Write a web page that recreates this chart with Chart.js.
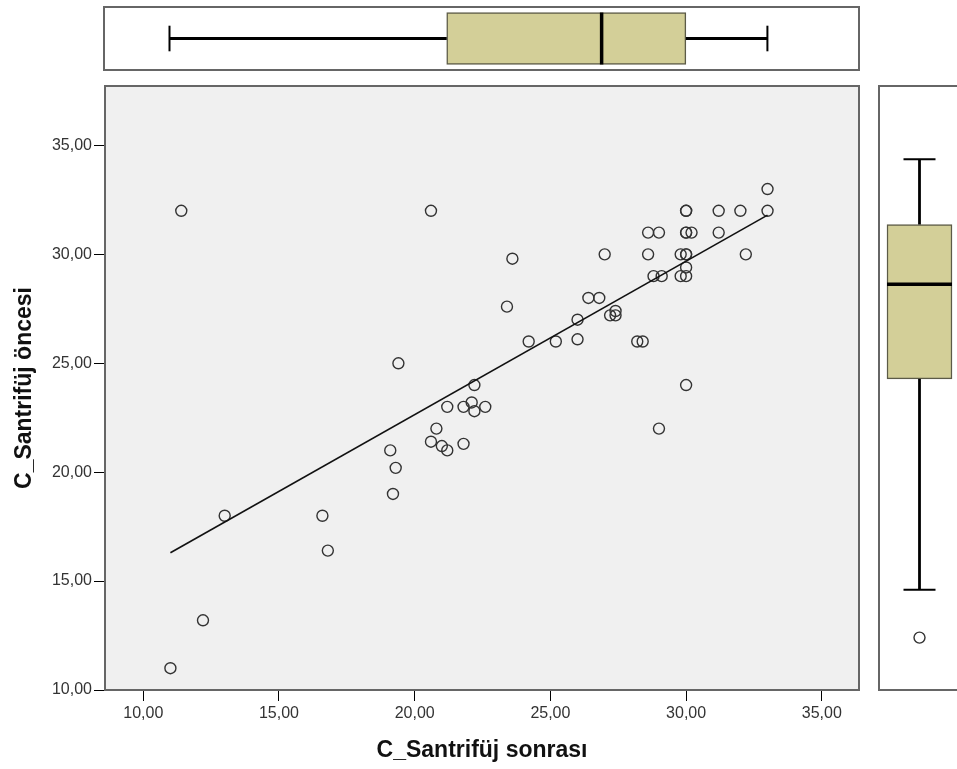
<!DOCTYPE html>
<html>
<head>
<meta charset="utf-8">
<script src="https://cdn.jsdelivr.net/npm/chart.js@4.4.0/dist/chart.umd.min.js"></script>
<style>
html, body { margin: 0; padding: 0; background: #fff; overflow: hidden; width: 957px; height: 769px; }
canvas { position: absolute; }
</style>
</head>
<body>
<canvas id="topBox" width="957" height="80" style="left:0;top:0"></canvas>
<canvas id="main" width="870" height="769" style="left:0;top:0"></canvas>
<canvas id="rightBox" width="100" height="769" style="left:870px;top:0"></canvas>
<script>
// C_Santrifüj sonrası (x) / C_Santrifüj öncesi (y)
const sonrasi = [11.4, 20.6, 19.4, 22.2, 33, 33, 30, 30, 31.2, 32,
  28.6, 29, 30, 30, 30.2, 31.2, 23.6, 27, 28.6, 29.8, 30, 30, 32.2, 30,
  28.8, 29.1, 29.8, 30, 26.4, 26.8, 23.4, 26, 27.2, 27.4, 27.4,
  24.2, 25.2, 26, 28.2, 28.4, 30, 21.2, 21.8, 22.1, 22.2, 22.6,
  20.8, 20.6, 21, 21.2, 21.8, 19.1, 19.3, 19.2, 13, 16.6, 16.8, 12.2, 11, 29];
const oncesi = [32, 32, 25, 24, 33, 32, 32, 32, 32, 32,
  31, 31, 31, 31, 31, 31, 29.8, 30, 30, 30, 30, 30, 30, 29.4,
  29, 29, 29, 29, 28, 28, 27.6, 27, 27.2, 27.2, 27.4,
  26, 26, 26.1, 26, 26, 24, 23, 23, 23.2, 22.8, 23,
  22, 21.4, 21.2, 21, 21.3, 21, 20.2, 19, 18, 18, 16.4, 13.2, 11, 22];

// fit line end points
const fitX = [11, 33];
const fitY = [16.3, 31.8];

// boxplot stats: min, q1, median, q3, max
const sonrasiBox = [11, 21.2, 26.9, 30, 33];
const oncesiBox = [13.2, 22.9, 27.25, 30, 33];
const oncesiOutliers = [11];

const xTicks = [10, 15, 20, 25, 30, 35];
const yTicks = [10, 15, 20, 25, 30, 35];
const xRange = [8.59, 36.37];
const yRange = [10, 37.73];

const FONT = "'Liberation Sans', Arial, sans-serif";
const fmt = v => Number(v).toFixed(2).replace('.', ',');

const framePlugin = {
  id: 'frame',
  beforeDraw(chart, args, opts) {
    const { ctx, chartArea: a } = chart;
    ctx.save();
    ctx.fillStyle = opts.fill;
    ctx.fillRect(a.left, a.top, a.right - a.left, a.bottom - a.top);
    ctx.restore();
  },
  afterDraw(chart, args, opts) {
    const { ctx, chartArea: a } = chart;
    ctx.save();
    ctx.strokeStyle = opts.stroke;
    ctx.lineWidth = 2;
    ctx.strokeRect(a.left, a.top, a.right - a.left, a.bottom - a.top);
    ctx.restore();
  }
};

const hidden = (range) => ({
  type: 'linear', display: false, offset: false, min: range[0], max: range[1],
  grid: { offset: false }, beginAtZero: false
});

// main scatter
new Chart(document.getElementById('main'), {
  type: 'scatter',
  data: {
    datasets: [
      {
        type: 'line',
        data: fitX.map((x, i) => ({ x: x, y: fitY[i] })),
        borderColor: '#111',
        borderWidth: 1.6,
        pointRadius: 0,
        fill: false
      },
      {
        data: sonrasi.map((x, i) => ({ x: x, y: oncesi[i] })),
        pointRadius: 5.5,
        pointBorderWidth: 1.4,
        pointBorderColor: '#333',
        pointBackgroundColor: 'rgba(0,0,0,0)'
      }
    ]
  },
  options: {
    responsive: false,
    animation: false,
    layout: { autoPadding: false, padding: { top: 86, right: 11, left: 0, bottom: 0 } },
    plugins: {
      legend: { display: false },
      tooltip: { enabled: false },
      frame: { fill: '#f0f0f0', stroke: '#666' }
    },
    scales: {
      x: {
        type: 'linear', min: xRange[0], max: xRange[1],
        afterFit: s => { s.height = 79; },
        afterBuildTicks: s => { s.ticks = xTicks.map(v => ({ value: v })); },
        ticks: { font: { family: FONT, size: 16 }, color: '#333', padding: 3, maxRotation: 0, autoSkip: false, callback: fmt },
        grid: { drawOnChartArea: false, tickLength: 11, color: '#000' },
        border: { display: false },
        title: { display: true, text: 'C_Santrifüj sonrası', color: '#111',
          font: { family: FONT, size: 23, weight: 'bold' }, padding: { top: 0, bottom: 5 } }
      },
      y: {
        type: 'linear', min: yRange[0], max: yRange[1],
        afterFit: s => { s.width = 105; },
        afterBuildTicks: s => { s.ticks = yTicks.map(v => ({ value: v })); },
        ticks: { font: { family: FONT, size: 16 }, color: '#333', padding: 2, autoSkip: false, callback: fmt },
        grid: { drawOnChartArea: false, tickLength: 11, color: '#000' },
        border: { display: false },
        title: { display: true, text: 'C_Santrifüj öncesi', color: '#111',
          font: { family: FONT, size: 23, weight: 'bold' }, padding: { top: 11, bottom: 0 } }
      }
    }
  },
  plugins: [framePlugin]
});

// top boxplot (sonrası)
const [xMin, xQ1, xMed, xQ3, xMax] = sonrasiBox;
new Chart(document.getElementById('topBox'), {
  type: 'scatter',
  data: {
    datasets: [
      { data: [{ x: xMed, y: 0.5 }], pointStyle: 'line', pointRotation: 90, pointRadius: 26,
        pointBorderWidth: 3.5, pointBorderColor: '#000' },
      { data: [{ x: xMin, y: 0.5 }, { x: xMax, y: 0.5 }], pointStyle: 'line', pointRotation: 90,
        pointRadius: 12.8, pointBorderWidth: 2, pointBorderColor: '#000' },
      { type: 'line', data: [{ x: xMin, y: 0.5 }, { x: xQ1, y: 0.5 }], borderColor: '#000', borderWidth: 2.8, pointRadius: 0 },
      { type: 'line', data: [{ x: xQ3, y: 0.5 }, { x: xMax, y: 0.5 }], borderColor: '#000', borderWidth: 2.8, pointRadius: 0 },
      { type: 'bar', indexAxis: 'y', data: [{ x: [xQ1, xQ3], y: 0.5 }], backgroundColor: '#d3cf98',
        borderColor: '#5c5b47', borderWidth: 1.5, borderSkipped: false, barThickness: 52, order: 1 }
    ]
  },
  options: {
    responsive: false,
    animation: false,
    layout: { autoPadding: false, padding: { left: 104, right: 98, top: 7, bottom: 10 } },
    plugins: { legend: { display: false }, tooltip: { enabled: false }, frame: { fill: '#fff', stroke: '#666' } },
    scales: { x: hidden(xRange), y: hidden([0, 1]) }
  },
  plugins: [framePlugin]
});

// right boxplot (öncesi)
const [yMin, yQ1, yMed, yQ3, yMax] = oncesiBox;
new Chart(document.getElementById('rightBox'), {
  type: 'scatter',
  data: {
    datasets: [
      { data: [{ x: 0.5, y: yMed }], pointStyle: 'line', pointRadius: 32.5,
        pointBorderWidth: 3.5, pointBorderColor: '#000' },
      { data: [{ x: 0.5, y: yMin }, { x: 0.5, y: yMax }], pointStyle: 'line',
        pointRadius: 16, pointBorderWidth: 2, pointBorderColor: '#000' },
      { data: oncesiOutliers.map(v => ({ x: 0.5, y: v })), pointRadius: 5.5, pointBorderWidth: 1.4,
        pointBorderColor: '#333', pointBackgroundColor: 'rgba(0,0,0,0)' },
      { type: 'line', data: [{ x: 0.5, y: yMin }, { x: 0.5, y: yQ1 }], borderColor: '#000', borderWidth: 2.8, pointRadius: 0 },
      { type: 'line', data: [{ x: 0.5, y: yQ3 }, { x: 0.5, y: yMax }], borderColor: '#000', borderWidth: 2.8, pointRadius: 0 },
      { type: 'bar', data: [{ x: 0.5, y: [yQ1, yQ3] }], backgroundColor: '#d3cf98',
        borderColor: '#5c5b47', borderWidth: 1.5, borderSkipped: false, barThickness: 65, order: 1 }
    ]
  },
  options: {
    responsive: false,
    animation: false,
    layout: { autoPadding: false, padding: { left: 9, right: 10, top: 86, bottom: 79 } },
    plugins: { legend: { display: false }, tooltip: { enabled: false }, frame: { fill: '#fff', stroke: '#666' } },
    scales: { x: hidden([0, 1]), y: hidden(xRange) }
  },
  plugins: [framePlugin]
});
</script>
</body>
</html>
